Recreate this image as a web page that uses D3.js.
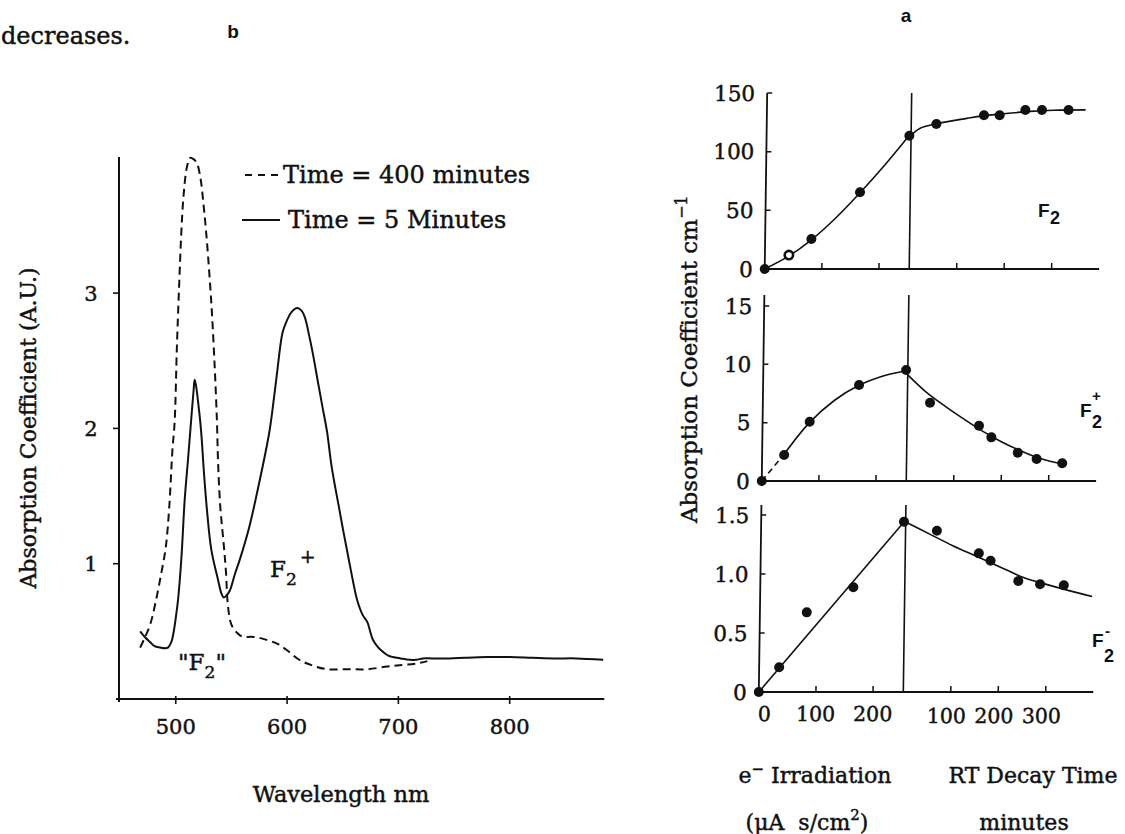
<!DOCTYPE html>
<html><head><meta charset="utf-8">
<script src="https://cdn.jsdelivr.net/npm/d3@7"></script>
<style>
html,body{margin:0;padding:0;background:#fff;}
svg{display:block;}
text.serif{stroke:#111;stroke-width:0.45px;}
</style></head><body>
<svg id="chart" width="1125" height="834"></svg>
<script>
// ---------- Panel b : absorption spectra ----------
const wavelengthTicks = [500, 600, 700, 800];
const absorbanceTicks = [1, 2, 3];
// [wavelength nm, absorption A.U.]
const spectrum400min = [[468,0.38],[472,0.45],[477,0.55],[482,0.72],[487,0.93],[491,1.12],[494,1.40],[497,1.84],[499,2.05],[501,2.60],[503,3.05],[505,3.45],[507,3.72],[510,3.93],[513,4.00],[516,3.99],[519,3.96],[522,3.86],[525,3.65],[528,3.38],[532,2.92],[535,2.45],[537,2.05],[538,1.75],[540,1.42],[543,1.15],[545,0.95],[547,0.68],[550,0.55],[555,0.49],[560,0.46],[568,0.46],[576,0.45],[584,0.43],[591,0.41],[600,0.36],[611,0.29],[622,0.25],[636,0.22],[655,0.22],[672,0.22],[690,0.24],[701,0.25],[715,0.26],[726,0.28]];
const spectrum5min = [[468,0.50],[472,0.46],[477,0.42],[481,0.39],[486,0.38],[490,0.375],[493,0.38],[496,0.42],[498,0.49],[500,0.60],[502,0.73],[504,0.92],[505.5,1.10],[508,1.47],[511,1.77],[514,2.08],[516,2.28],[517,2.36],[518.5,2.30],[520,2.20],[522,2.05],[523.5,1.90],[525,1.71],[528,1.40],[532,1.10],[538,0.88],[541,0.78],[543,0.75],[545,0.76],[548.5,0.80],[553,0.92],[557.5,1.03],[566,1.27],[575,1.60],[584,1.97],[588,2.21],[591,2.41],[596,2.71],[600,2.80],[604,2.86],[609,2.89],[613,2.87],[616,2.82],[620,2.68],[623,2.56],[628,2.33],[632,2.15],[636,1.97],[640,1.72],[647,1.40],[651,1.22],[655,1.05],[659,0.88],[663,0.73],[668,0.62],[672,0.57],[677,0.44],[682,0.38],[686,0.35],[691,0.32],[695,0.31],[702,0.30],[710,0.29],[716,0.29],[722,0.30],[730,0.30],[746,0.30],[760,0.305],[780,0.31],[800,0.31],[820,0.305],[840,0.30],[860,0.30],[884,0.29]];
const legendLabels = ["Time = 400 minutes", "Time = 5 Minutes"];

// ---------- Panel a : growth and decay ----------
const irradiationTicks = [100, 200];
const decayTicks = [100, 200, 300];
const f2Ticks = [0, 50, 100, 150];
const f2PlusTicks = [0, 5, 10, 15];
const f2MinusTicks = [0, 0.5, 1.0, 1.5];
const f2MinusTickLabels = ["0", "0.5", "1.0", "1.5"];
// [irradiation μA s/cm², value] and [decay minutes, value]
const f2IrrPoints = [[0,0],[42,11.9],[81,25.6],[165,65.4],[250,113.6]];
const f2DecayPoints = [[53,123.6],[153,131],[186,131],[240,135.5],[275,135.5],[331,135.5]];
const f2IrrFit = [[0,0],[40,10.5],[80,24.5],[120,42],[165,65],[210,90],[250,114]];
const f2DecayFit = [[0,114],[19,120],[50,123.6],[117,128.4],[150,130.5],[200,132.5],[250,134.3],[300,135.3],[367,135.6]];

const f2pIrrPoints = [[0,0],[38.6,2.23],[82.5,5.08],[168,8.23],[250,9.51]];
const f2pDecayPoints = [[47.8,6.71],[151.6,4.74],[178,3.74],[234,2.43],[274,1.89],[328,1.52]];
const f2pIrrFitDashed = [[0,0],[38.6,2.3]];
const f2pIrrFit = [[38.6,2.3],[82,5.0],[125,6.9],[168,8.2],[210,9.0],[250,9.45]];
const f2pDecayFit = [[0,9.1],[40,7.6],[80,6.4],[120,5.3],[160,4.25],[200,3.35],[240,2.6],[280,1.95],[330,1.45]];

const f2mIrrPoints = [[0,0],[35,0.21],[82,0.675],[163,0.887],[250,1.443]];
const f2mDecayPoints = [[66,1.367],[155,1.175],[180,1.113],[239,0.94],[285,0.913],[335,0.904]];
const f2mIrrFit = [[0,0],[250,1.44]];
const f2mDecayFit = [[0,1.44],[50,1.34],[100,1.24],[150,1.15],[200,1.06],[250,0.97],[300,0.91],[350,0.855],[395,0.81]];

const SERIF = "'DejaVu Serif', 'Liberation Serif', serif";
const SANS = "'Liberation Sans', Arial, sans-serif";
const INK = "#111";

const svg = d3.select("#chart");
function stext(parent, x, y, size) {
  return parent.append("text").attr("class","serif").attr("x", x).attr("y", y)
    .attr("font-family", SERIF).attr("font-size", size).attr("fill", INK);
}

// page text
stext(svg, 1, 44, 24).text("decreases.");
svg.append("text").attr("x", 233).attr("y", 38).attr("text-anchor","middle").attr("font-family", SANS).attr("font-weight","bold").attr("font-size", 19).attr("fill", INK).text("b");
svg.append("text").attr("x", 906).attr("y", 22).attr("text-anchor","middle").attr("font-family", SANS).attr("font-weight","bold").attr("font-size", 19).attr("fill", INK).text("a");

// ================= Panel b =================
const xW = d3.scaleLinear().domain([449, 885]).range([119, 604.3]);
const yA = d3.scaleLinear().domain([0, 4.006]).range([699, 157]);
const gb = svg.append("g");

gb.append("line").attr("x1", xW(449)).attr("x2", xW(449)).attr("y1", yA(4.006)).attr("y2", yA(0)+3)
  .attr("stroke", INK).attr("stroke-width", 2);
gb.append("line").attr("x1", xW(449)-3).attr("x2", xW(885)).attr("y1", yA(0)).attr("y2", yA(0))
  .attr("stroke", INK).attr("stroke-width", 2);
absorbanceTicks.forEach(t => {
  gb.append("line").attr("x1", xW(449)-6).attr("x2", xW(449)).attr("y1", yA(t)).attr("y2", yA(t)).attr("stroke", INK).attr("stroke-width", 1.6);
  stext(gb, 91, yA(t), 21).attr("dy","0.36em").attr("text-anchor","middle").text(t);
});
wavelengthTicks.forEach(t => {
  gb.append("line").attr("x1", xW(t)).attr("x2", xW(t)).attr("y1", yA(0)-3).attr("y2", yA(0)+5).attr("stroke", INK).attr("stroke-width", 1.6);
  stext(gb, xW(t), 734, 21).attr("text-anchor","middle").text(t);
});
stext(gb, 341, 802, 22.5).attr("text-anchor","middle").text("Wavelength nm");
gb.append("text").attr("class","serif").attr("transform", "translate(28,428) rotate(-90)").attr("dy","0.36em").attr("text-anchor","middle")
  .attr("font-family", SERIF).attr("font-size", 22).attr("fill", INK).text("Absorption Coefficient (A.U.)");

const specLine = d3.line().x(d => xW(d[0])).y(d => yA(d[1])).curve(d3.curveCatmullRom.alpha(0.5));
gb.append("path").datum(spectrum400min).attr("d", specLine).attr("fill","none").attr("stroke", INK)
  .attr("stroke-width", 2).attr("stroke-dasharray","8,5");
gb.append("path").datum(spectrum5min).attr("d", specLine).attr("fill","none").attr("stroke", INK)
  .attr("stroke-width", 2);

// legend
gb.append("line").attr("x1",245).attr("x2",281).attr("y1",175).attr("y2",175).attr("stroke",INK).attr("stroke-width",2).attr("stroke-dasharray","7,6");
stext(gb, 283, 183, 24).text(legendLabels[0]);
gb.append("line").attr("x1",242).attr("x2",280).attr("y1",220).attr("y2",220).attr("stroke",INK).attr("stroke-width",2);
stext(gb, 288, 228, 24).text(legendLabels[1]);

// peak labels
const lf2 = stext(gb, 178, 670, 23);
lf2.append("tspan").text("\"F");
lf2.append("tspan").attr("dy",8).attr("font-size",17).text("2");
lf2.append("tspan").attr("dy",-8).text("\"");
const lf2p = stext(gb, 270, 577, 23);
lf2p.append("tspan").text("F");
lf2p.append("tspan").attr("dy",8).attr("font-size",17).text("2");
lf2p.append("tspan").attr("dy",-22).attr("dx",3).attr("font-size",19).text("+");

// ================= Panel a =================
const ga = svg.append("g").attr("transform","translate(0,392) skewX(-0.8) translate(0,-392)");
const xI = d3.scaleLinear().domain([0, 253]).range([763, 907.5]);
const xD = d3.scaleLinear().domain([0, 395]).range([907.5, 1095]);

const panels = [
  {y: d3.scaleLinear().domain([0,150]).range([269,93]), top: 93, ticks: f2Ticks, labels: f2Ticks.map(String),
   irrPts: f2IrrPoints, decPts: f2DecayPoints, irrFit: f2IrrFit, decFit: f2DecayFit, hollow: 1},
  {y: d3.scaleLinear().domain([0,15]).range([481,306]), top: 295, ticks: f2PlusTicks, labels: f2PlusTicks.map(String),
   irrPts: f2pIrrPoints, decPts: f2pDecayPoints, irrFit: f2pIrrFit, decFit: f2pDecayFit, dashedFit: f2pIrrFitDashed},
  {y: d3.scaleLinear().domain([0,1.5]).range([692,515]), top: 505, ticks: f2MinusTicks, labels: f2MinusTickLabels,
   irrPts: f2mIrrPoints, decPts: f2mDecayPoints, irrFit: f2mIrrFit, decFit: f2mDecayFit}
];

panels.forEach((p, pi) => {
  const y0 = p.y(0);
  const g = ga.append("g");
  g.append("line").attr("x1", xI(0)).attr("x2", xI(0)).attr("y1", p.top).attr("y2", y0).attr("stroke",INK).attr("stroke-width",1.8);
  g.append("line").attr("x1", xD(0)).attr("x2", xD(0)).attr("y1", p.top).attr("y2", y0).attr("stroke",INK).attr("stroke-width",1.6);
  g.append("line").attr("x1", xI(0)).attr("x2", xD(400)).attr("y1", y0).attr("y2", y0).attr("stroke",INK).attr("stroke-width",1.8);
  p.ticks.forEach((t, i) => {
    if (t !== 0) g.append("line").attr("x1", xI(0)).attr("x2", xI(0)+5).attr("y1", p.y(t)).attr("y2", p.y(t)).attr("stroke",INK).attr("stroke-width",1.5);
    stext(g, 751, p.y(t), 21.5).attr("dy","0.36em").attr("text-anchor","end").text(p.labels[i]);
  });
  irradiationTicks.forEach(t => g.append("line").attr("x1", xI(t)).attr("x2", xI(t)).attr("y1", y0).attr("y2", y0-6).attr("stroke",INK).attr("stroke-width",1.5));
  decayTicks.forEach(t => g.append("line").attr("x1", xD(t)).attr("x2", xD(t)).attr("y1", y0).attr("y2", y0-6).attr("stroke",INK).attr("stroke-width",1.5));

  const lineI = d3.line().x(d => xI(d[0])).y(d => p.y(d[1])).curve(d3.curveCatmullRom.alpha(0.5));
  const lineD = d3.line().x(d => xD(d[0])).y(d => p.y(d[1])).curve(d3.curveCatmullRom.alpha(0.5));
  g.append("path").datum(p.irrFit).attr("d", lineI).attr("fill","none").attr("stroke",INK).attr("stroke-width",1.6);
  if (p.dashedFit) g.append("path").datum(p.dashedFit).attr("d", lineI).attr("fill","none").attr("stroke",INK).attr("stroke-width",1.6).attr("stroke-dasharray","6,4");
  g.append("path").datum(p.decFit).attr("d", lineD).attr("fill","none").attr("stroke",INK).attr("stroke-width",1.6);

  p.irrPts.forEach((d, i) => {
    const hollow = (p.hollow === i);
    g.append("circle").attr("cx", xI(d[0])).attr("cy", p.y(d[1])).attr("r", hollow ? 4.2 : 5)
      .attr("fill", hollow ? "#fff" : INK).attr("stroke", INK).attr("stroke-width", hollow ? 2.6 : 0);
  });
  p.decPts.forEach(d => {
    g.append("circle").attr("cx", xD(d[0])).attr("cy", p.y(d[1])).attr("r", 5).attr("fill", INK);
  });

  if (pi === 2) {
    stext(g, xI(0)+6, 721, 20.5).attr("text-anchor","middle").text("0");
    irradiationTicks.forEach(t => stext(g, xI(t), 721, 20.5).attr("text-anchor","middle").text(t));
    decayTicks.forEach(t => stext(g, xD(t)-4, 723, 20.5).attr("text-anchor","middle").text(t));
  }
});

// species labels (sans), one text element each with positioned tspans
function species(x, y, subDx, subDy, supTxt, supDx, supDy) {
  const t = svg.append("text").attr("font-family",SANS).attr("font-weight","bold").attr("fill",INK);
  t.append("tspan").attr("x", x).attr("y", y).attr("font-size",19).text("F");
  t.append("tspan").attr("x", x+subDx).attr("y", y+subDy).attr("font-size",18).text("2");
  if (supTxt) t.append("tspan").attr("x", x+supDx).attr("y", y+supDy).attr("font-size",15).text(supTxt);
}
species(1038, 217, 12, 7);
species(1080, 417, 12, 11, "+", 12, -16);
species(1092, 647, 12, 15, "-", 13, -11);

// right axis title
const yt = svg.append("text").attr("class","serif").attr("transform","translate(697,523) rotate(-90)").attr("text-anchor","start")
  .attr("font-family",SERIF).attr("font-size",23).attr("fill",INK);
yt.append("tspan").text("Absorption Coefficient cm");
yt.append("tspan").attr("dy",-10).attr("font-size",16).text("−1");

// bottom axis titles
const t1 = stext(svg, 815, 783, 22).attr("text-anchor","middle");
t1.append("tspan").text("e");
t1.append("tspan").attr("dy",-9).attr("font-size",15).text("−");
t1.append("tspan").attr("dy",9).text(" Irradiation");
const t2 = stext(svg, 807, 830, 22).attr("text-anchor","middle");
t2.append("tspan").text("(μA\u00A0 s/cm");
t2.append("tspan").attr("dy",-10).attr("font-size",15).text("2");
t2.append("tspan").attr("dy",10).text(")");
stext(svg, 1033, 783, 22).attr("text-anchor","middle").text("RT Decay Time");
stext(svg, 1024, 830, 22).attr("text-anchor","middle").text("minutes");
</script>
</body></html>
